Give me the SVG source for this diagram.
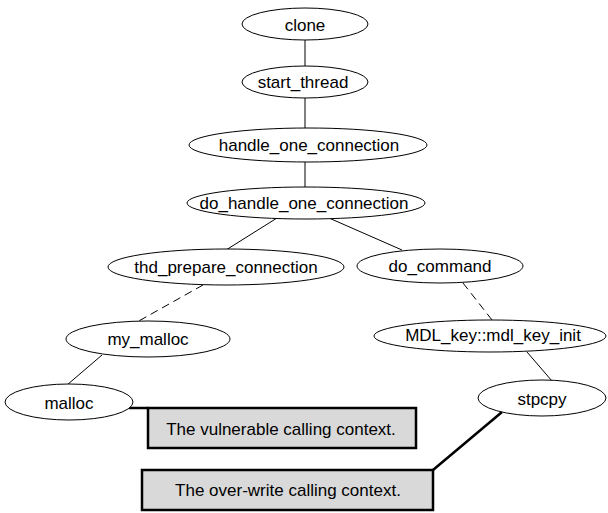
<svg xmlns="http://www.w3.org/2000/svg" width="608" height="513" viewBox="0 0 608 513">
<style>
.n ellipse{fill:#fff;stroke:#000;stroke-width:1}
.n text,.b text{font-family:"Liberation Sans",Arial,sans-serif;font-size:17px;fill:#000;text-anchor:middle;dominant-baseline:central}
.e line{stroke:#000;stroke-width:1}
.e .d{stroke-dasharray:8,5}
.e .t{stroke-width:2.5}
.b rect{fill:#d9d9d9;stroke:#000;stroke-width:2.5}
</style>
<rect width="608" height="513" fill="#fff"/>
<g id="edges" class="e">
<line x1="305" y1="40" x2="305" y2="66"/>
<line x1="305" y1="98" x2="305" y2="128"/>
<line x1="305" y1="162" x2="305" y2="187"/>
<line x1="277" y1="218" x2="226" y2="250"/>
<line x1="329" y1="218" x2="402" y2="250"/>
<line class="d" x1="203" y1="285" x2="137" y2="322"/>
<line x1="102" y1="355" x2="67" y2="385"/>
<line class="d" x1="463" y1="283" x2="492" y2="320"/>
<line x1="527" y1="352" x2="552" y2="381"/>
<line class="t" x1="129" y1="408" x2="148" y2="408"/>
<line class="t" x1="502" y1="412" x2="433" y2="470"/>
</g>
<g id="clone" class="n"><ellipse cx="305" cy="24" rx="63" ry="16"/><text x="305" y="25">clone</text></g>
<g id="start_thread" class="n"><ellipse cx="305" cy="82" rx="63" ry="16"/><text x="303" y="82">start_thread</text></g>
<g id="handle_one_connection" class="n"><ellipse cx="308" cy="145" rx="119" ry="17"/><text x="309" y="145">handle_one_connection</text></g>
<g id="do_handle_one_connection" class="n"><ellipse cx="306" cy="203" rx="119" ry="16"/><text x="304" y="203">do_handle_one_connection</text></g>
<g id="thd_prepare_connection" class="n"><ellipse cx="226" cy="267" rx="118" ry="18"/><text x="226" y="267">thd_prepare_connection</text></g>
<g id="do_command" class="n"><ellipse cx="440" cy="266" rx="83" ry="17"/><text x="440" y="266">do_command</text></g>
<g id="my_malloc" class="n"><ellipse cx="148" cy="339" rx="82" ry="18"/><text x="148" y="339">my_malloc</text></g>
<g id="mdl_key_init" class="n"><ellipse cx="490" cy="336" rx="116" ry="16"/><text x="493" y="335">MDL_key::mdl_key_init</text></g>
<g id="malloc" class="n"><ellipse cx="69" cy="402" rx="64" ry="18"/><text x="69" y="403">malloc</text></g>
<g id="stpcpy" class="n"><ellipse cx="542" cy="398" rx="64" ry="18"/><text x="542" y="399">stpcpy</text></g>
<g id="vulnerable_box" class="b"><rect x="148" y="408" width="268" height="40"/><text x="281" y="429">The vulnerable calling context.</text></g>
<g id="overwrite_box" class="b"><rect x="142" y="470" width="291" height="40"/><text x="288" y="490">The over-write calling context.</text></g>
</svg>
